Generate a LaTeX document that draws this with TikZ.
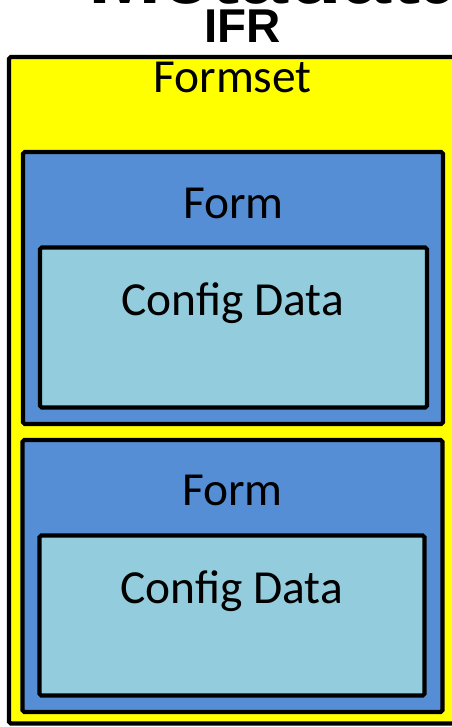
\documentclass[tikz,border=0pt]{standalone}
\usepackage{fontspec}
\setmainfont{Carlito}
\newfontfamily\headfont[BoldFont={Liberation Sans Bold}]{Liberation Sans}
\usepackage{tikz}

\definecolor{setyellow}{HTML}{FFFF00}
\definecolor{formblue}{HTML}{558ED5}
\definecolor{databblue}{HTML}{93CDDD}

\tikzset{
  box/.style={draw=black, line width=2.3pt, rounded corners=1pt},
  lbl/.style={anchor=base, inner sep=0pt, font=\fontsize{27}{30}\selectfont},
  head/.style={anchor=base, inner sep=0pt, font=\headfont\bfseries\fontsize{27}{30}\selectfont}
}

\begin{document}
\begin{tikzpicture}
    \useasboundingbox (0,0) rectangle (9.04,-14.54);
    \clip (0,0) rectangle (9.04,-14.54);

    \node[head, anchor=base west, font=\headfont\bfseries\fontsize{50}{55}\selectfont] (meta) at (1.76,-0.06) {Metadata};
    \node[head] (ifr) at (4.86,-0.85) {IFR};

    % formset
    \draw[box, fill=setyellow] (0.18,-1.14) rectangle (9.5,-14.47);
    \node[lbl] (formset) at (4.65,-1.84) {Formset};

    % forms
    \draw[box, fill=formblue] (0.46,-3.04) rectangle (8.86,-8.48);
    \node[lbl] (form1) at (4.67,-4.36) {Form};
    \draw[box, fill=formblue] (0.45,-8.8) rectangle (8.85,-14.24);
    \node[lbl] (form2) at (4.65,-10.1) {Form};

    % config data
    \draw[box, fill=databblue] (0.8,-4.95) rectangle (8.54,-8.15);
    \node[lbl] (data1) at (4.65,-6.3) {Config Data};
    \draw[box, fill=databblue] (0.79,-10.71) rectangle (8.49,-13.91);
    \node[lbl] (data2) at (4.63,-12.06) {Config Data};

  \end{tikzpicture}
\end{document}
